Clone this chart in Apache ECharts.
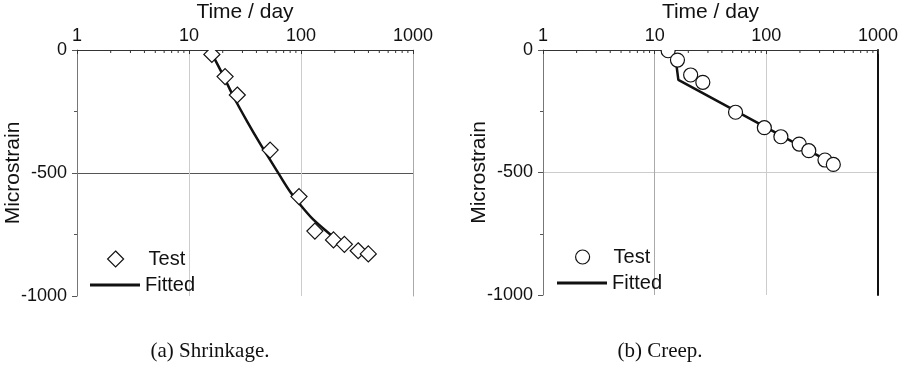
<!DOCTYPE html>
<html>
<head>
<meta charset="utf-8">
<script src="https://cdn.jsdelivr.net/npm/echarts@6.0.0/dist/echarts.min.js"></script>
<style>
  html, body { margin: 0; padding: 0; background: #fff; }
  #chart { width: 899px; height: 370px; }
</style>
</head>
<body>
<div id="chart"></div>
<script>
// ---- data ----
const shrinkDays = [16, 21, 27, 53, 96, 133, 195, 244, 324, 399];
const shrinkTest = [-18, -108, -183, -407, -596, -736, -772, -790, -816, -829];
const shrinkFitDays = [16, 20, 25, 33, 43, 53, 65, 80, 98, 129, 170, 192];
const shrinkFit = [-15, -100, -190, -290, -380, -447, -512, -576, -628, -690, -738, -758];

const creepDays = [13.2, 16, 21, 27, 53, 96, 135, 197, 240, 335, 398];
const creepTest = [-3, -41, -102, -132, -254, -317, -354, -384, -411, -449, -467];
const creepFitDays = [15.5, 16.3, 398];
const creepFit = [-45, -122, -465];

const minorTickDays = [2, 3, 4, 5, 6, 7, 8, 9, 20, 30, 40, 50, 60, 70, 80, 90, 200, 300, 400, 500, 600, 700, 800, 900];
const captions = ['(a) Shrinkage.', '(b) Creep.'];

const FONT = 'Liberation Sans, Arial, sans-serif';
const SERIF = 'Liberation Serif, Times New Roman, serif';
const MARKER = { fill: '#fff', stroke: '#111', lineWidth: 1.2 };

function zip(xs, ys) {
    return xs.map((x, i) => [x, ys[i]]);
}

// axes for one panel
function xAxisFor(gridIndex, gridColors) {
    return {
        type: 'log', logBase: 10, min: 1, max: 1000, gridIndex,
        position: 'top',
        name: 'Time / day', nameLocation: 'middle', nameGap: 27, nameMoveOverlap: false,
        nameTextStyle: { fontFamily: FONT, fontSize: 21, color: '#111' },
        axisLine: { show: true, lineStyle: { color: '#333', width: 1 } },
        axisTick: { show: true, inside: true, length: 4, lineStyle: { color: '#333' } },
        axisLabel: { fontFamily: FONT, fontSize: 18, color: '#111', margin: 5, formatter: v => String(v) },
        splitLine: { show: true, lineStyle: { color: gridColors, width: 1 } }
    };
}

function yAxesFor(gridIndex, midColor, borderColor, borderWidth) {
    return [{
        type: 'value', min: -1000, max: 0, interval: 500, gridIndex,
        position: 'left',
        name: 'Microstrain', nameLocation: 'middle', nameGap: 53, nameRotate: 90, nameMoveOverlap: false,
        nameTextStyle: { fontFamily: FONT, fontSize: 21, color: '#111' },
        axisLine: { show: true, lineStyle: { color: '#777', width: 1 } },
        axisTick: { show: true, inside: false, length: 5, lineStyle: { color: '#555' } },
        minorTick: { show: true, splitNumber: 2, length: 3, lineStyle: { color: '#555' } },
        axisLabel: { fontFamily: FONT, fontSize: 18, color: '#111', margin: 10, formatter: v => String(v) },
        splitLine: { show: true, lineStyle: { color: ['rgba(0,0,0,0)', midColor, 'rgba(0,0,0,0)'] } }
    }, {
        // right-hand border line at day 1000
        type: 'value', min: -1000, max: 0, gridIndex,
        position: 'right',
        axisLine: { show: true, lineStyle: { color: borderColor, width: borderWidth } },
        axisTick: { show: false }, axisLabel: { show: false }, splitLine: { show: false }
    }];
}

// small inward ticks between the decades on the top axis
function minorTickSeries(xAxisIndex, yAxisIndex) {
    return {
        type: 'custom', xAxisIndex, yAxisIndex, silent: true, z: 5, clip: false,
        data: minorTickDays.map(d => [d, 0]),
        renderItem: function (params, api) {
            const p = api.coord([api.value(0), api.value(1)]);
            return {
                type: 'line',
                shape: { x1: p[0], y1: p[1], x2: p[0], y2: p[1] + 3 },
                style: { stroke: '#333', lineWidth: 1 }
            };
        }
    };
}

// test points as a custom series so the markers get clipped at the top axis
function testSeries(name, symbol, xAxisIndex, yAxisIndex, data) {
    return {
        name, type: 'custom', xAxisIndex, yAxisIndex, clip: true, z: 4,
        itemStyle: { color: '#fff', borderColor: '#111', borderWidth: 1.2 },
        data,
        renderItem: function (params, api) {
            const p = api.coord([api.value(0), api.value(1)]);
            if (symbol === 'circle') {
                return { type: 'circle', shape: { cx: p[0], cy: p[1], r: 7 }, style: MARKER };
            }
            const h = 8;
            return {
                type: 'polygon',
                shape: { points: [[p[0], p[1] - h], [p[0] + h, p[1]], [p[0], p[1] + h], [p[0] - h, p[1]]] },
                style: MARKER
            };
        }
    };
}

function fitSeries(name, xAxisIndex, yAxisIndex, data, smooth) {
    return {
        name, type: 'line', xAxisIndex, yAxisIndex, smooth, showSymbol: false, symbol: 'none', z: 3,
        lineStyle: { color: '#111', width: 2.5 },
        itemStyle: { color: '#111' },
        data
    };
}

function legendPair(testName, icon, iconSize, fitName, symLeft, lineLeft, topTest, topFit, textPad) {
    return [{
        data: [{ name: testName, icon, itemStyle: { color: '#fff', borderColor: '#111', borderWidth: 1.2 } }],
        left: symLeft, top: topTest, padding: 0,
        itemWidth: iconSize, itemHeight: iconSize,
        textStyle: { fontFamily: FONT, fontSize: 20, color: '#111', padding: [0, 0, 0, textPad] }
    }, {
        data: [{ name: fitName, icon: 'rect', itemStyle: { color: '#111' } }],
        left: lineLeft, top: topFit, padding: 0,
        itemWidth: 50, itemHeight: 3,
        textStyle: { fontFamily: FONT, fontSize: 20, color: '#111' }
    }];
}

const option = {
    backgroundColor: '#fff',
    animation: false,
    grid: [
        { left: 77, top: 50, width: 336, height: 246, outerBoundsMode: 'none' },
        { left: 543, top: 50, width: 335, height: 245, outerBoundsMode: 'none' }
    ],
    xAxis: [
        xAxisFor(0, ['#999', '#ccc', '#ccc', '#aaa']),
        xAxisFor(1, ['#999', '#aaa', '#ccc', '#111'])
    ],
    yAxis: [
        ...yAxesFor(0, '#555', '#aaa', 1),
        ...yAxesFor(1, '#ccc', '#111', 2)
    ],
    legend: [
        ...legendPair('Test', 'diamond', 16, 'Fitted', 107, 90, 249, 275, 20),
        ...legendPair('Test ', 'circle', 14, 'Fitted ', 575, 557, 247, 273, 19)
    ],
    series: [
        minorTickSeries(0, 0),
        minorTickSeries(1, 2),
        fitSeries('Fitted', 0, 0, zip(shrinkFitDays, shrinkFit), 0.3),
        testSeries('Test', 'diamond', 0, 0, zip(shrinkDays, shrinkTest)),
        fitSeries('Fitted ', 1, 2, zip(creepFitDays, creepFit), false),
        testSeries('Test ', 'circle', 1, 2, zip(creepDays, creepTest))
    ],
    graphic: [
        { type: 'text', x: 210, y: 351, style: { text: captions[0], font: '21px ' + SERIF, fill: '#111', align: 'center', verticalAlign: 'middle' } },
        { type: 'text', x: 660, y: 351, style: { text: captions[1], font: '21px ' + SERIF, fill: '#111', align: 'center', verticalAlign: 'middle' } }
    ]
};

const chart = echarts.init(document.getElementById('chart'));
chart.setOption(option);
</script>
</body>
</html>
